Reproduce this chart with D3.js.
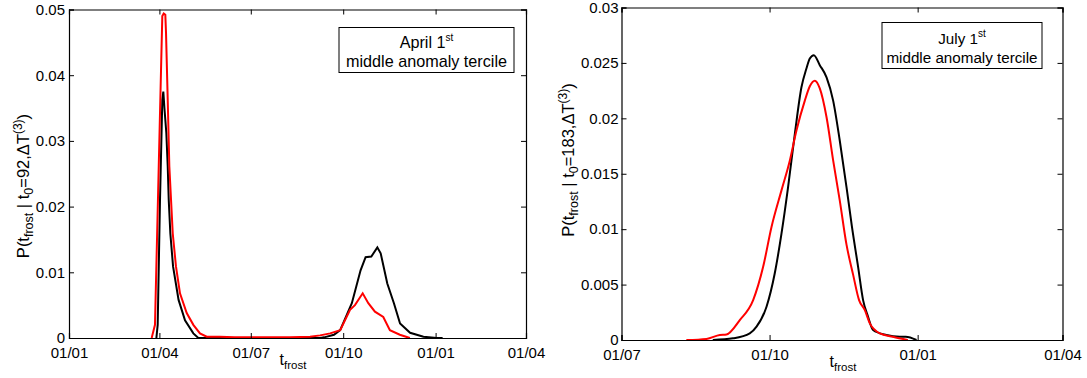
<!DOCTYPE html>
<html>
<head>
<meta charset="utf-8">
<script src="https://cdn.jsdelivr.net/npm/d3@7"></script>
<style>
  body { margin: 0; background: #fff; }
  svg { display: block; font-family: "Liberation Sans", Arial, sans-serif; }
</style>
</head>
<body>
<svg id="chart" width="1087" height="378"></svg>
<script>
// days counted from 01/01, values are probability densities

// left panel: start date April 1st (t0 = 92)
var aprilBlack = [
  [87.0, 0], [88.3, 0.002], [90.6, 0.021], [92.9, 0.0362], [93.9, 0.0375], [95.0, 0.035],
  [96.9, 0.0312], [98.3, 0.0261], [99.3, 0.021], [100.9, 0.0159], [103.6, 0.0109],
  [109.1, 0.0058], [115.5, 0.0027], [123.8, 0.0007], [128.8, 0], [250, 0], [254, 0.0001],
  [263.8, 0.0005], [270.0, 0.0012], [281.6, 0.0053], [290.3, 0.0103], [295.3, 0.0123],
  [301.0, 0.0124], [307.0, 0.0138], [310.3, 0.0129], [316.9, 0.0083], [323.5, 0.0053],
  [329.6, 0.0022], [339.6, 0.0008], [352.9, 0.0002], [366.2, 0], [372, 0]
];
var aprilRed = [
  [82.3, 0], [85.6, 0.002], [92.9, 0.049], [94.3, 0.0494], [95.9, 0.0492], [96.6, 0.0464],
  [98.3, 0.0362], [99.9, 0.0261], [103.3, 0.0159], [106.5, 0.0109], [110.5, 0.0068],
  [117.2, 0.0038], [123.8, 0.002], [130.4, 0.0007], [137.1, 0.0002], [150, 0.0002],
  [165, 0.0001], [220, 0.0001], [240, 0.0002], [250, 0.0004], [260, 0.0007], [270, 0.0012],
  [279.8, 0.0043], [284.7, 0.005], [292.4, 0.0068], [298.0, 0.0053], [304.6, 0.004],
  [312.9, 0.0032], [319.5, 0.0012], [329.4, 0.0005], [339.4, 0]
];

// right panel: start date July 1st (t0 = 183)
var julyBlack = [
  [237.7, 0], [250.3, 0.00015], [260.7, 0.0006], [264.9, 0.0012], [271.1, 0.003],
  [276.2, 0.006], [280.4, 0.0096], [284.5, 0.0138], [288.7, 0.0186], [292.8, 0.0228],
  [295.9, 0.0245], [298, 0.0254], [300.5, 0.0257], [304.2, 0.0248], [308.4, 0.0237],
  [312.5, 0.0216], [316.6, 0.018], [320.8, 0.0138], [324.1, 0.0103], [328, 0.0066],
  [331.1, 0.0036], [334.2, 0.0021], [337.3, 0.0009], [345.6, 0.00045], [353.9, 0.0003],
  [357.6, 0.0003], [364.3, 0]
];
var julyRed = [
  [221.3, 0], [233.8, 0.0001], [242.1, 0.00045], [246.2, 0.0005], [254.5, 0.0018],
  [262.8, 0.0036], [269, 0.0066], [274.2, 0.0102], [280.4, 0.0135], [285.6, 0.0162],
  [289.7, 0.0189], [294.9, 0.0216], [298, 0.0229], [301.1, 0.0234], [304.2, 0.0227],
  [308.4, 0.0201], [312.5, 0.0162], [316.6, 0.0126], [320.8, 0.0086], [324.9, 0.0059],
  [328.6, 0.0036], [332.2, 0.0027], [335.3, 0.0015], [341.5, 0.0006], [349.6, 0.0003],
  [358.9, 0]
];

// tick positions (day of year) and their labels
var aprilXTicks = [0, 90, 181, 273, 365, 455];
var aprilXLabels = ["01/01", "01/04", "01/07", "01/10", "01/01", "01/04"];
var julyXTicks = [181, 273, 365, 455];
var julyXLabels = ["01/07", "01/10", "01/01", "01/04"];
var aprilYTicks = [0, 0.01, 0.02, 0.03, 0.04, 0.05];
var aprilYLabels = ["0", "0.01", "0.02", "0.03", "0.04", "0.05"];
var julyYTicks = [0, 0.005, 0.01, 0.015, 0.02, 0.025, 0.03];
var julyYLabels = ["0", "0.005", "0.01", "0.015", "0.02", "0.025", "0.03"];

var svg = d3.select("#chart");

function drawPanel(p) {
  var x = d3.scaleLinear().domain(p.xDomain).range([p.left, p.right]);
  var y = d3.scaleLinear().domain(p.yDomain).range([p.bottom, p.top]);
  var g = svg.append("g");
  var tick = 5;

  // curves
  var line = d3.line()
    .x(function (d) { return x(d[0]); })
    .y(function (d) { return y(d[1]); })
    .curve(p.curve);
  g.append("path").datum(p.black).attr("d", line)
    .attr("fill", "none").attr("stroke", "#000").attr("stroke-width", 2);
  g.append("path").datum(p.red).attr("d", line)
    .attr("fill", "none").attr("stroke", "#ff0000").attr("stroke-width", 2);

  // axes: inward ticks on all four sides, matlab style
  var bottom = d3.axisBottom(x).tickValues(p.xTicks).tickSize(-tick).tickFormat(function (d, i) { return p.xLabels[i]; }).tickPadding(9);
  var top = d3.axisTop(x).tickValues(p.xTicks).tickSize(-tick).tickFormat("");
  var leftAx = d3.axisLeft(y).tickValues(p.yTicks).tickSize(-tick).tickFormat(function (d, i) { return p.yLabels[i]; }).tickPadding(p.yPad);
  var rightAx = d3.axisRight(y).tickValues(p.yTicks).tickSize(-tick).tickFormat("");

  g.append("g").attr("transform", "translate(0," + p.bottom + ")").call(bottom);
  g.append("g").attr("transform", "translate(0," + p.top + ")").call(top);
  g.append("g").attr("transform", "translate(" + p.left + ",0)").call(leftAx);
  g.append("g").attr("transform", "translate(" + p.right + ",0)").call(rightAx);
  g.selectAll(".domain").attr("stroke", "#000").attr("stroke-width", 1.2);
  g.selectAll(".tick line").attr("stroke", "#000");
  g.selectAll(".tick text").attr("font-size", 15).attr("fill", "#000")
    .attr("font-family", "'Liberation Sans', Arial, sans-serif");

  // x label
  var xl = g.append("text").attr("x", p.xLabelX).attr("y", p.xLabelY)
    .attr("font-size", 16).attr("text-anchor", "middle");
  xl.append("tspan").text("t");
  xl.append("tspan").attr("font-size", 11.5).attr("dy", 4).text("frost");

  // y label
  var yl = g.append("text")
    .attr("transform", "translate(" + p.yLabelX + "," + p.yLabelY + ") rotate(-90)")
    .attr("font-size", 16.5).attr("text-anchor", "middle");
  yl.append("tspan").text("P(t");
  yl.append("tspan").attr("font-size", 12.5).attr("dy", 4).text("frost");
  yl.append("tspan").attr("dy", -4).text(" | t");
  yl.append("tspan").attr("font-size", 12.5).attr("dy", 4).text("0");
  yl.append("tspan").attr("dy", -4).text("=" + p.t0 + ",\u0394T");
  yl.append("tspan").attr("font-size", 12).attr("dy", -7).text("(3)");
  yl.append("tspan").attr("dy", 7).text(")");

  // legend box
  var b = p.box;
  g.append("rect").attr("x", b.x).attr("y", b.y).attr("width", b.w).attr("height", b.h)
    .attr("fill", "#fff").attr("stroke", "#000").attr("stroke-width", 1);
  var cx = b.x + b.w / 2;
  var t1 = g.append("text").attr("x", cx).attr("y", b.line1).attr("font-size", b.fs)
    .attr("text-anchor", "middle");
  t1.append("tspan").text(p.date + " 1");
  t1.append("tspan").attr("font-size", 10).attr("dy", -7).text("st");
  g.append("text").attr("x", cx).attr("y", b.line2).attr("font-size", b.fs)
    .attr("text-anchor", "middle").text("middle anomaly tercile");
}

drawPanel({
  black: aprilBlack, red: aprilRed,
  xDomain: [0, 455], yDomain: [0, 0.05],
  xTicks: aprilXTicks, xLabels: aprilXLabels, yTicks: aprilYTicks, yLabels: aprilYLabels,
  left: 69, right: 526, top: 9.5, bottom: 338, yPad: 4,
  curve: d3.curveLinear,
  t0: 92, date: "April",
  xLabelX: 293, xLabelY: 365,
  yLabelX: 28.5, yLabelY: 186,
  box: { x: 339, y: 27.5, w: 175, h: 45, fs: 16.2, line1: 47.5, line2: 66.5 }
});

drawPanel({
  black: julyBlack, red: julyRed,
  xDomain: [181, 455], yDomain: [0, 0.03],
  xTicks: julyXTicks, xLabels: julyXLabels, yTicks: julyYTicks, yLabels: julyYLabels,
  left: 621.5, right: 1062.5, top: 7.5, bottom: 340, yPad: 3,
  curve: d3.curveMonotoneX,
  t0: 183, date: "July",
  xLabelX: 843, xLabelY: 367,
  yLabelX: 573.5, yLabelY: 160,
  box: { x: 882, y: 22.5, w: 160, h: 46, fs: 15.2, line1: 43.5, line2: 62.5 }
});
</script>
</body>
</html>
